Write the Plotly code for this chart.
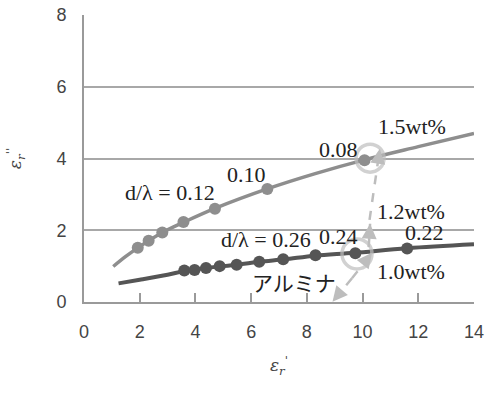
import math
import plotly.graph_objects as go

# ---- data ----
upper_line_x = [1.05, 1.5, 1.93, 2.8, 3.6, 4.7, 6.6, 8.3, 10.1, 12.0, 14.0]
upper_line_y = [0.99, 1.27, 1.51, 1.93, 2.23, 2.61, 3.16, 3.58, 3.97, 4.33, 4.70]
upper_pts_x = [1.93, 2.32, 2.81, 3.57, 4.70, 6.58, 10.07]
upper_pts_y = [1.51, 1.71, 1.94, 2.23, 2.60, 3.15, 3.95]

lower_line_x = [1.24, 2.0, 3.0, 3.6, 4.4, 5.5, 6.3, 7.2, 8.3, 9.7, 11.6, 14.0]
lower_line_y = [0.52, 0.62, 0.76, 0.86, 0.95, 1.04, 1.12, 1.19, 1.29, 1.37, 1.50, 1.61]
lower_pts_x = [3.60, 3.97, 4.38, 4.87, 5.48, 6.29, 7.15, 8.31, 9.74, 11.60]
lower_pts_y = [0.88, 0.89, 0.95, 1.00, 1.04, 1.12, 1.19, 1.30, 1.36, 1.49]

circle_x = [10.27, 9.80]
circle_y = [4.01, 1.34]

# dashed arrows: (start, end), arrowhead at end
arrow_segments = [
    ((9.62, 0.66), (8.92, 0.01)),
    ((9.62, 0.66), (10.34, 1.37)),
    ((10.18, 1.03), (10.27, 2.18)),
    ((10.25, 2.29), (10.62, 4.27)),
]

labels = [
    ("d/λ = 0.12", 3.09, 3.05),
    ("0.10", 5.85, 3.55),
    ("0.08", 9.12, 4.25),
    ("1.5wt%", 11.76, 4.89),
    ("1.2wt%", 11.74, 2.53),
    ("0.22", 12.24, 1.93),
    ("0.24", 9.15, 1.82),
    ("d/λ = 0.26", 6.53, 1.73),
    ("1.0wt%", 11.74, 0.84),
]

x_ticks = [0, 2, 4, 6, 8, 10, 12, 14]
y_ticks = [0, 2, 4, 6, 8]

UPPER = "#8e8e8e"
LOWER = "#555555"
HILITE = "#bdbdbd"

W, H = 487, 393
ML, MR, MT, MB = 84, 13, 15, 91
XR, YR = [0, 14], [0, 8]
PX_X = (W - ML - MR) / (XR[1] - XR[0])
PX_Y = (H - MT - MB) / (YR[1] - YR[0])

fig = go.Figure()

fig.add_trace(go.Scatter(x=upper_line_x, y=upper_line_y, mode="lines",
                         line=dict(color=UPPER, width=3.5, shape="spline"),
                         hoverinfo="skip", showlegend=False))
fig.add_trace(go.Scatter(x=lower_line_x, y=lower_line_y, mode="lines",
                         line=dict(color=LOWER, width=4, shape="spline"),
                         hoverinfo="skip", showlegend=False))
fig.add_trace(go.Scatter(x=upper_pts_x, y=upper_pts_y, mode="markers",
                         marker=dict(color=UPPER, size=12), showlegend=False))
fig.add_trace(go.Scatter(x=lower_pts_x, y=lower_pts_y, mode="markers",
                         marker=dict(color=LOWER, size=12), showlegend=False))

for (s, e) in arrow_segments:
    fig.add_trace(go.Scatter(
        x=[s[0], e[0]], y=[s[1], e[1]], mode="lines",
        line=dict(color=HILITE, width=2.5, dash="dash"),
        hoverinfo="skip", showlegend=False))
    dxp = (e[0] - s[0]) * PX_X
    dyp = -(e[1] - s[1]) * PX_Y
    L = math.hypot(dxp, dyp)
    tail = 14
    fig.add_annotation(x=e[0], y=e[1], ax=-dxp / L * tail, ay=-dyp / L * tail,
                       xref="x", yref="y", text="", showarrow=True,
                       arrowhead=2, arrowsize=1.2, arrowwidth=2.5,
                       arrowcolor=HILITE, standoff=0, startstandoff=0)

fig.add_trace(go.Scatter(x=circle_x, y=circle_y, mode="markers",
                         marker=dict(symbol="circle-open", size=[28, 30],
                                     color=HILITE, line=dict(width=3.5, color=HILITE)),
                         hoverinfo="skip", showlegend=False))

for txt, lx, ly in labels:
    fig.add_annotation(x=lx, y=ly, text=txt, showarrow=False,
                       font=dict(family="Liberation Serif", size=22, color="#222222"))

fig.add_annotation(x=7.55, y=0.55, text="アルミナ", showarrow=False,
                   font=dict(family="Noto Sans CJK JP", size=21, color="#222222"))

fig.update_layout(
    width=W, height=H,
    margin=dict(l=ML, r=MR, t=MT, b=MB),
    paper_bgcolor="white", plot_bgcolor="white",
    font=dict(family="Liberation Sans", size=18, color="#444444"),
    xaxis=dict(range=XR, tickvals=x_ticks, ticks="inside", ticklen=9,
               tickcolor="#9a9a9a", tickwidth=1.5, showgrid=False, zeroline=False,
               showline=True, linecolor="#9a9a9a", linewidth=2,
               ticklabelstandoff=12, automargin=False,
               title=dict(text="<i>ε<sub>r</sub><sup>'</sup></i>", standoff=19,
                          font=dict(family="DejaVu Serif", size=17, color="#444444"))),
    yaxis=dict(range=YR, tickvals=y_ticks, ticks="", showgrid=True,
               gridcolor="#a8a8a8", gridwidth=1.5, zeroline=False,
               showline=True, linecolor="#9a9a9a", linewidth=2,
               ticklabelstandoff=12, automargin=False,
               title=dict(text="<i>ε<sub>r</sub><sup>''</sup></i>", standoff=30,
                          font=dict(family="DejaVu Serif", size=17, color="#444444"))),
)

fig.write_html("out.html")
